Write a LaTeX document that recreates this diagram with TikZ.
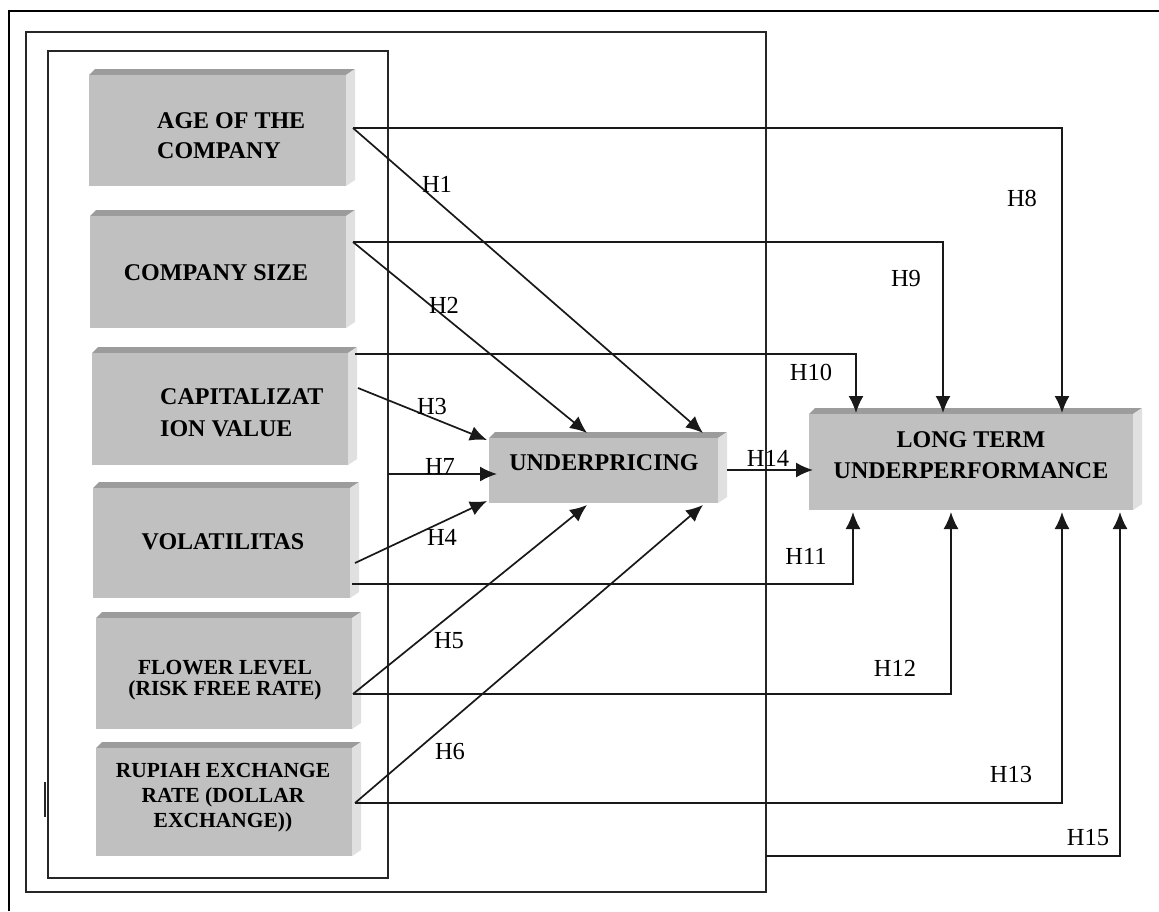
\documentclass[tikz,border=0pt]{standalone}
\usepackage{fontspec}
\setmainfont{Liberation Serif}
\usetikzlibrary{arrows.meta}
\definecolor{facegray}{HTML}{C0C0C0}
\definecolor{topgray}{HTML}{9C9C9C}
\definecolor{sidegray}{HTML}{E0E0E0}
\newcommand\bevbox[5]{%
  \fill[topgray] (#2,#3+6) -- (#2+6,#3) -- (#4,#3) -- (#4-9,#3+6) -- cycle;
  \fill[sidegray] (#4-9,#3+6) -- (#4,#3) -- (#4,#5-6) -- (#4-9,#5) -- cycle;
  \fill[facegray] (#2,#3+6) rectangle (#4-9,#5);
  \coordinate (#1) at ({(#2+#4)/2},{(#3+#5)/2});
}
\begin{document}
\begin{tikzpicture}[x=1pt,y=-1pt,
  conn/.style={line width=1.7pt, draw=black!90, -{Latex[length=17pt,width=15pt]}},
  frame/.style={line width=1.9pt, draw=black!85},
  lbl/.style={font=\fontsize{24.5}{28}\selectfont, inner sep=0pt, text=black},
  btext/.style={font=\bfseries\fontsize{24}{30}\selectfont, inner sep=0pt, text=black},
  stext/.style={font=\bfseries\fontsize{21.5}{21}\selectfont, inner sep=0pt, text=black, align=center},
]
\useasboundingbox (0,0) rectangle (1159,911);
\fill[white] (0,0) rectangle (1159,911);

% frames
\draw[line width=2.6pt] (9,911) -- (9,11) -- (1159,11);
\draw[frame] (26,32) rectangle (766,892);
\draw[frame] (48,51) rectangle (388,878);
\draw[line width=2pt, draw=black!85] (45,782) -- (45,817);

% boxes
\bevbox{age}{89}{69}{355}{186}
\bevbox{size}{90}{210}{355}{328}
\bevbox{cap}{92}{347}{357}{465}
\bevbox{vol}{93}{482}{359}{598}
\bevbox{flow}{96}{612}{361}{729}
\bevbox{rup}{96}{742}{361}{856}
\bevbox{und}{489}{432}{727}{503}
\bevbox{ltu}{809}{408}{1142}{510}

\node[btext, anchor=west, align=left] (tage) at (157,136) {AGE OF THE\\COMPANY};
\node[btext] (tsize) at (216,273) {COMPANY SIZE};
\node[btext, anchor=west, align=left, font=\bfseries\fontsize{24}{32}\selectfont] (tcap) at (160,413) {CAPITALIZAT\\ION VALUE};
\node[btext] (tvol) at (223,542) {VOLATILITAS};
\node[stext] (tflow) at (225,680) {FLOWER LEVEL\\(RISK FREE RATE)};
\node[stext, font=\bfseries\fontsize{21.5}{25}\selectfont] (trup) at (223,798) {RUPIAH EXCHANGE\\RATE (DOLLAR\\EXCHANGE))};
\node[btext] (tund) at (604,463) {UNDERPRICING};
\node[btext, align=center, font=\bfseries\fontsize{24}{31}\selectfont] (tltu) at (971,455) {LONG TERM\\UNDERPERFORMANCE};

% connector end points
\coordinate (ageO) at (353,128);
\coordinate (sizeO) at (353,242);
\coordinate (capO1) at (355,354);
\coordinate (capO2) at (358,388);
\coordinate (volO1) at (355,563);
\coordinate (volO2) at (352,584);
\coordinate (flowO) at (353,694);
\coordinate (rupO) at (355,803);
\coordinate (innerR) at (388,474);
\coordinate (midR) at (766,856);
\coordinate (undT1) at (703,433);
\coordinate (undT2) at (587,433);
\coordinate (undL1) at (487,440);
\coordinate (undL2) at (497,474);
\coordinate (undL3) at (487,501);
\coordinate (undB1) at (587,505);
\coordinate (undB2) at (703,505);
\coordinate (undR) at (727,470);
\coordinate (ltuL) at (813,470);
\coordinate (ltuT1) at (856,413);
\coordinate (ltuT2) at (943,413);
\coordinate (ltuT3) at (1062,413);
\coordinate (ltuB1) at (853,512);
\coordinate (ltuB2) at (951,512);
\coordinate (ltuB3) at (1062,512);
\coordinate (ltuB4) at (1120,512);

% connectors
\draw[conn] (ageO) -- (undT1);
\draw[conn] (ageO) -| (ltuT3);
\draw[conn] (sizeO) -- (undT2);
\draw[conn] (sizeO) -| (ltuT2);
\draw[conn] (capO1) -| (ltuT1);
\draw[conn] (capO2) -- (undL1);
\draw[conn] (innerR) -- (undL2);
\draw[conn] (volO1) -- (undL3);
\draw[conn] (volO2) -| (ltuB1);
\draw[conn] (flowO) -- (undB1);
\draw[conn] (flowO) -| (ltuB2);
\draw[conn] (rupO) -- (undB2);
\draw[conn] (rupO) -| (ltuB3);
\draw[conn] (midR) -| (ltuB4);
\draw[conn] (undR) -- (ltuL);

% labels
\node[lbl] (h1) at (437,184) {H1};
\node[lbl] (h2) at (444,305) {H2};
\node[lbl] (h3) at (432,407) {H3};
\node[lbl] (h7) at (440,466) {H7};
\node[lbl] (h4) at (442,537) {H4};
\node[lbl] (h5) at (449,641) {H5};
\node[lbl] (h6) at (450,751) {H6};
\node[lbl] (h8) at (1022,198) {H8};
\node[lbl] (h9) at (906,279) {H9};
\node[lbl] (h10) at (811,372) {H10};
\node[lbl] (h11) at (806,556) {H11};
\node[lbl] (h12) at (895,668) {H12};
\node[lbl] (h13) at (1011,774) {H13};
\node[lbl] (h15) at (1088,838) {H15};
\node[lbl] (h14) at (768,458) {H14};
\end{tikzpicture}
\end{document}
